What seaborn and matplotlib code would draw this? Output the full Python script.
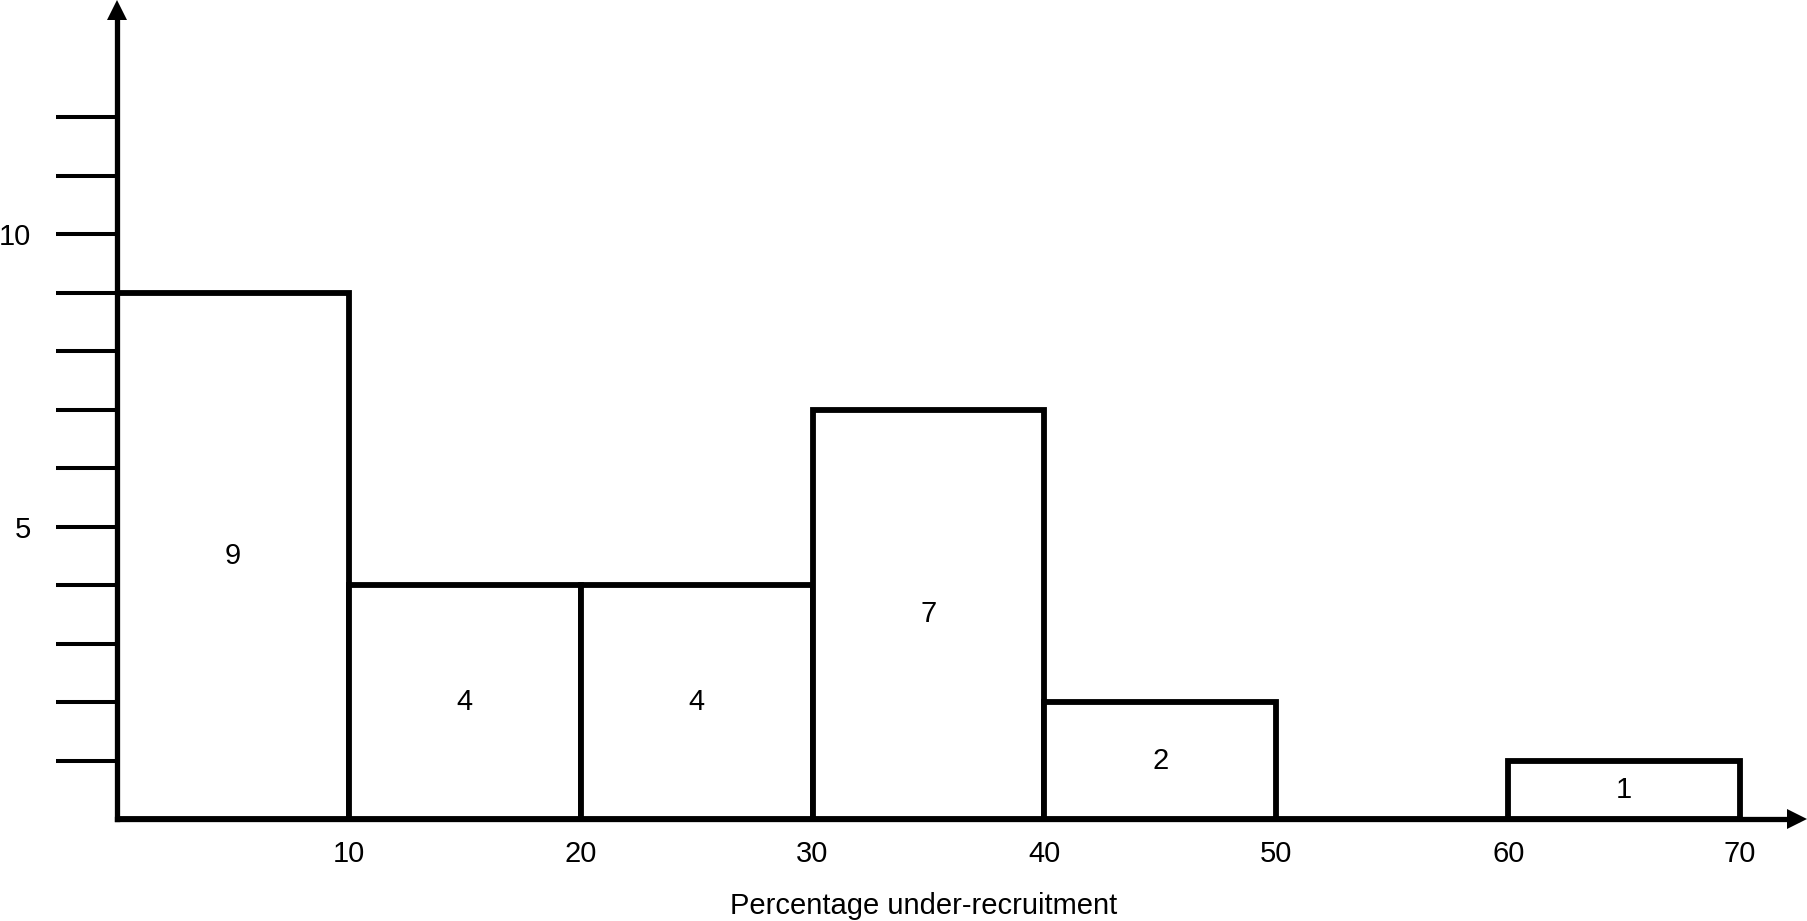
"""Histogram of percentage under-recruitment, drawn as outlined bars."""

import os

os.environ.setdefault("MPLCONFIGDIR", "/tmp/matplotlib")

import matplotlib

matplotlib.use("Agg")

import matplotlib.pyplot as plt
import pandas as pd
import seaborn as sns

# data
bin_edges = [0, 10, 20, 30, 40, 50, 60, 70]
bin_counts = [9, 4, 4, 7, 2, 0, 1]
x_ticks = [10, 20, 30, 40, 50, 60, 70]
y_ticks = list(range(1, 13))
y_tick_labels = {5: "5", 10: "10"}
x_label = "Percentage under-recruitment"

FONT_SIZE = 21


def main() -> None:
    sns.set_theme(style="white")
    plt.rcParams["font.family"] = ["Liberation Sans", "DejaVu Sans"]

    mids = [(a + b) / 2 for a, b in zip(bin_edges[:-1], bin_edges[1:])]
    df = pd.DataFrame({"mid": mids, "count": bin_counts})

    fig = plt.figure(figsize=(18.07, 9.21), dpi=100)
    ax = fig.add_axes([0.0647, 0.1107, 0.9297, 0.8784])

    sns.histplot(
        data=df, x="mid", weights="count", bins=bin_edges, stat="count",
        color="white", edgecolor="black", linewidth=4.2, alpha=1, ax=ax,
    )

    for m, c in zip(mids, bin_counts):
        if c > 0:
            ax.text(m, c / 2, str(c), ha="center", va="center",
                    fontsize=FONT_SIZE, color="black")

    ax.set_xlim(0, 72.45)
    ax.set_ylim(0, 13.83)

    ax.set_xticks(x_ticks)
    ax.set_xticklabels([str(t) for t in x_ticks])
    ax.set_yticks(y_ticks)
    ax.set_yticklabels([y_tick_labels.get(t, "") for t in y_ticks])
    ax.tick_params(axis="x", length=0, pad=15, labelsize=FONT_SIZE, colors="black")
    ax.tick_params(axis="y", direction="out", length=44, width=2.9, pad=18,
                   labelsize=FONT_SIZE, colors="black", left=True)

    ax.set_xlabel(x_label, fontsize=FONT_SIZE, color="black")
    ax.set_ylabel("")
    ax.xaxis.set_label_coords(0.48, -0.09)

    for side in ["top", "right"]:
        ax.spines[side].set_visible(False)
    for side in ["left", "bottom"]:
        ax.spines[side].set_linewidth(3.8)
        ax.spines[side].set_color("black")

    # arrow heads at the ends of the axes
    ax.plot([1], [0], marker=">", ms=15, mew=0, color="black",
            transform=ax.transAxes, clip_on=False)
    ax.plot([0], [1], marker="^", ms=15, mew=0, color="black",
            transform=ax.transAxes, clip_on=False)

    fig.savefig("out.png", dpi=100, facecolor="white")
    plt.close(fig)


if __name__ == "__main__":
    main()
